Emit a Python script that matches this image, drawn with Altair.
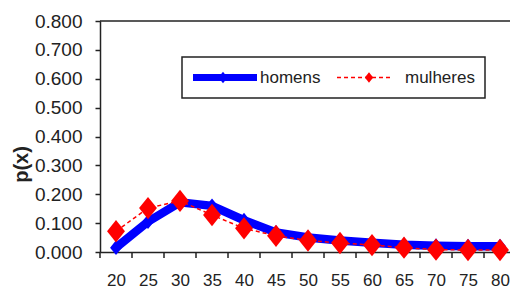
import altair as alt
import pandas as pd

# ---- data ----
ages = [20, 25, 30, 35, 40, 45, 50, 55, 60, 65, 70, 75, 80]
homens = [0.015, 0.105, 0.172, 0.160, 0.110, 0.068, 0.050, 0.040, 0.032, 0.025, 0.022, 0.020, 0.020]
mulheres = [0.072, 0.152, 0.177, 0.128, 0.082, 0.056, 0.040, 0.031, 0.024, 0.015, 0.008, 0.007, 0.007]
series = ["homens", "mulheres"]
colors = ["#0000FF", "#FF0000"]
y_ticks = [0.0, 0.1, 0.2, 0.3, 0.4, 0.5, 0.6, 0.7, 0.8]
tick_bounds = [17.5 + 5 * i for i in range(13)]

df = pd.DataFrame({"age": ages, "homens": homens, "mulheres": mulheres})

FONT = "Liberation Sans"
TXT = "#222222"
W, H = 410, 231
DIAMOND = "M0,-1L0.8,0L0,1L-0.8,0Z"

x_scale = alt.Scale(domain=[17.5, 81.56], nice=False, zero=False)
y_scale = alt.Scale(domain=[0, 0.8], nice=False)

x_axis = alt.Axis(values=ages, ticks=False, labelFontSize=17, labelPadding=20,
                  labelFont=FONT, labelColor=TXT, domainColor=TXT, domainWidth=1.5,
                  grid=False, title=None, labelFlush=False, labelOverlap=False)
y_axis = alt.Axis(values=y_ticks, format=".3f", tickSize=5, tickColor=TXT, tickWidth=1.5,
                  labelPadding=13, labelFontSize=19, labelFont=FONT, labelColor=TXT,
                  domainColor=TXT, domainWidth=1.5, grid=False, labelFlush=False,
                  labelOverlap=False,
                  title="p(x)", titleFont=FONT, titleFontSize=20, titleFontWeight="bold",
                  titleColor=TXT, titleAngle=270, titleX=-79, titleY=143,
                  titleAlign="center", titleBaseline="middle")

base = alt.Chart(df)


def X(f):
    return alt.X(f, scale=x_scale, axis=x_axis)


def Y(f):
    return alt.Y(f, scale=y_scale, axis=y_axis)


blue_line = base.mark_line(color=colors[0], strokeWidth=8.5).encode(x=X("age:Q"), y=Y("homens:Q"))
blue_pts = base.mark_point(shape=DIAMOND, filled=True, size=220, color=colors[0], opacity=1).encode(
    x=X("age:Q"), y=Y("homens:Q"))
red_line = base.mark_line(color=colors[1], strokeWidth=1.5, strokeDash=[4, 3]).encode(
    x=X("age:Q"), y=Y("mulheres:Q"))
red_pts = base.mark_point(shape=DIAMOND, filled=True, size=500, color=colors[1], opacity=1).encode(
    x=X("age:Q"), y=Y("mulheres:Q"))

ticks = alt.Chart(pd.DataFrame({"b": tick_bounds})).mark_rule(color=TXT, strokeWidth=1.5).encode(
    x=X("b:Q"), y=alt.value(H), y2=alt.value(H + 6),
)
top_border = alt.Chart(pd.DataFrame({"t": [0.8]})).mark_rule(color=TXT, strokeWidth=1.5).encode(
    y=Y("t:Q"),
)

one = pd.DataFrame({"k": [0]})
LY = 56.5
leg_box = alt.Chart(one).mark_rect(fill="white", stroke=TXT, strokeWidth=1.5).encode(
    x=alt.value(82), x2=alt.value(385), y=alt.value(36), y2=alt.value(77))
leg_l1 = alt.Chart(one).mark_rule(color=colors[0], strokeWidth=7).encode(
    x=alt.value(93), x2=alt.value(157), y=alt.value(LY))
leg_p1 = alt.Chart(one).mark_point(shape=DIAMOND, filled=True, size=130, color=colors[0], opacity=1).encode(
    x=alt.value(123), y=alt.value(LY))
leg_t1 = alt.Chart(one).mark_text(align="left", baseline="middle", fontSize=17, font=FONT, color=TXT).encode(
    x=alt.value(160), y=alt.value(LY), text=alt.value(series[0]))
leg_l2 = alt.Chart(one).mark_rule(color=colors[1], strokeWidth=1.5, strokeDash=[4, 3]).encode(
    x=alt.value(237), x2=alt.value(293), y=alt.value(LY))
leg_p2 = alt.Chart(one).mark_point(shape=DIAMOND, filled=True, size=110, color=colors[1], opacity=1).encode(
    x=alt.value(269), y=alt.value(LY))
leg_t2 = alt.Chart(one).mark_text(align="left", baseline="middle", fontSize=17, font=FONT, color=TXT).encode(
    x=alt.value(305), y=alt.value(LY), text=alt.value(series[1]))

chart = alt.layer(
    blue_line, top_border, ticks, blue_pts, red_line, red_pts,
    leg_box, leg_l1, leg_p1, leg_t1, leg_l2, leg_p2, leg_t2,
).properties(
    width=W, height=H,
    autosize=alt.AutoSizeParams(type="none"),
    padding={"left": 92, "top": 13, "right": 0, "bottom": 39},
    background="white",
).configure_view(stroke=None)

chart.save("out.html", embed_options={"renderer": "svg", "actions": False})
